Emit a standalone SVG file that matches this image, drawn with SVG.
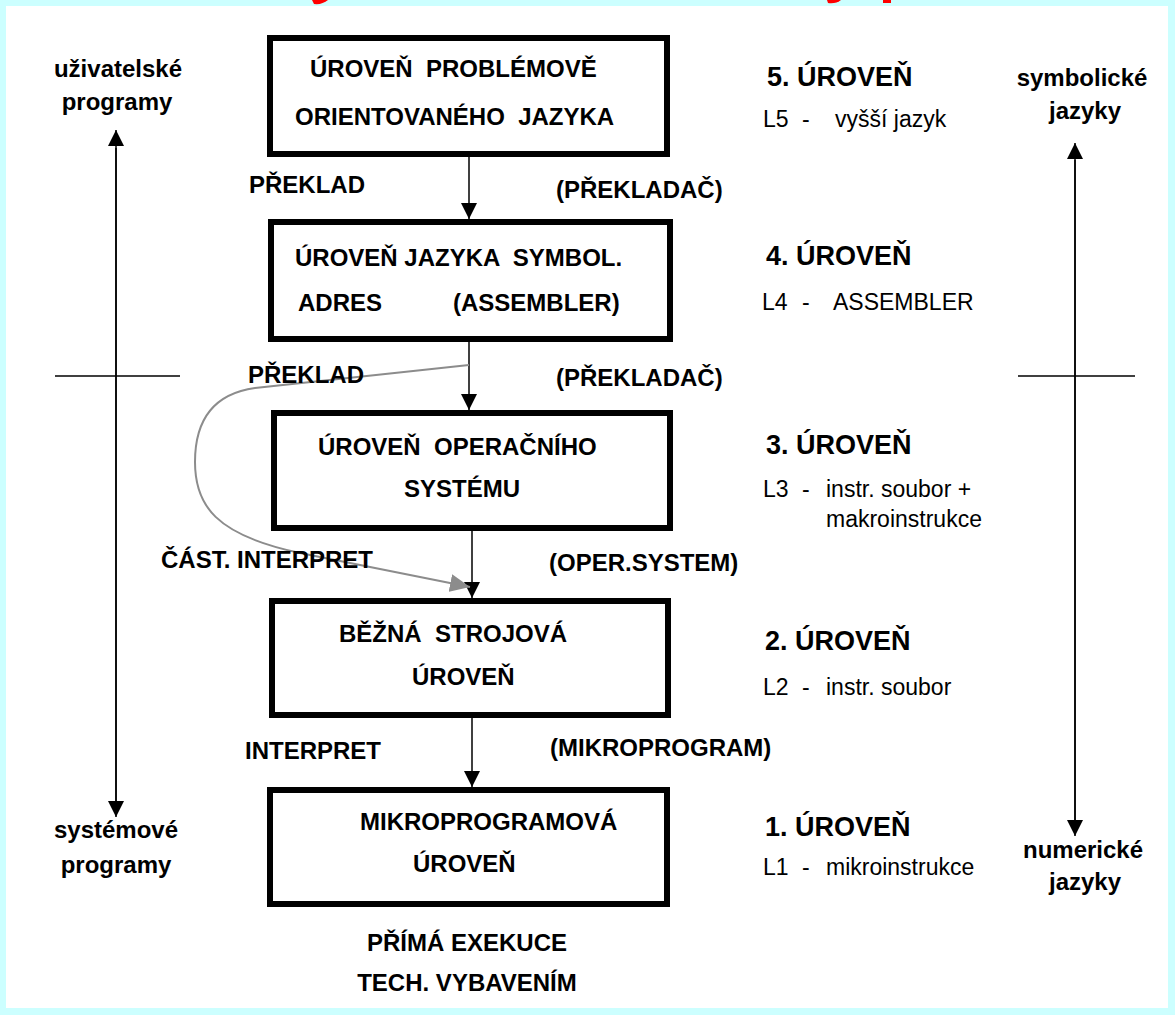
<svg xmlns="http://www.w3.org/2000/svg" width="1175" height="1015" viewBox="0 0 1175 1015">
<defs>
<style>
.box{fill:#fff;stroke:#000;stroke-width:6}
.t{font-family:"Liberation Sans",Arial,sans-serif;font-weight:bold;font-size:24px;fill:#000;white-space:pre}
.lv{font-family:"Liberation Sans",Arial,sans-serif;font-weight:bold;font-size:27px;fill:#000;white-space:pre}
.r{font-family:"Liberation Sans",Arial,sans-serif;font-size:23px;fill:#000;white-space:pre}
.c{text-anchor:middle}
.ln{stroke:#000;stroke-width:1.5;fill:none}
.gr{stroke:#8c8c8c;stroke-width:2;fill:none}
</style>
<marker id="ah" markerUnits="userSpaceOnUse" markerWidth="18" markerHeight="16" refX="16" refY="8" orient="auto">
<path d="M0,0 L16,8 L0,16 Z" fill="#000"/>
</marker>
<marker id="ahg" markerUnits="userSpaceOnUse" markerWidth="22" markerHeight="18" refX="20" refY="9" orient="auto">
<path d="M0,0 L20,9 L0,18 Z" fill="#8c8c8c"/>
</marker>
</defs>
<rect x="0" y="0" width="1175" height="1015" fill="#ccffff"/>
<rect x="6" y="6" width="1162" height="1002" fill="#fff"/>
<g id="title-remnant" fill="#ff0000">
<path d="M312,0 L328,0 Q322,5 314,4 Z"/>
<path d="M827,0 L841,0 Q836,4 828,3 Z"/>
<rect x="883" y="0" width="8" height="3"/>
</g>
<g id="connectors">
<line class="ln" x1="469" y1="157" x2="469" y2="219" marker-end="url(#ah)"/>
<line class="ln" x1="469" y1="342" x2="469" y2="410" marker-end="url(#ah)"/>
<line class="ln" x1="472" y1="531" x2="472" y2="598" marker-end="url(#ah)"/>
<line class="ln" x1="472" y1="718" x2="472" y2="787" marker-end="url(#ah)"/>
<path class="gr" d="M469,365 L255,388 C205,395 195,430 195,462 C195,505 215,535 300,553 L470,587" marker-end="url(#ahg)"/>
<line class="ln" x1="116" y1="815" x2="116" y2="130" marker-end="url(#ah)"/>
<line class="ln" x1="116" y1="148" x2="116" y2="817" marker-end="url(#ah)"/>
<line class="ln" x1="55" y1="376" x2="180" y2="376"/>
<line class="ln" x1="1075" y1="834" x2="1075" y2="143" marker-end="url(#ah)"/>
<line class="ln" x1="1075" y1="160" x2="1075" y2="836" marker-end="url(#ah)"/>
<line class="ln" x1="1018" y1="376" x2="1135" y2="376"/>
</g>
<g id="level5">
<rect class="box" x="270" y="38" width="397" height="116"/>
<text class="t" x="310" y="77">ÚROVEŇ  PROBLÉMOVĚ</text>
<text class="t" x="295" y="125">ORIENTOVANÉHO  JAZYKA</text>
</g>
<g id="level4">
<rect class="box" x="271" y="222" width="399" height="117"/>
<text class="t" x="295" y="266">ÚROVEŇ JAZYKA  SYMBOL.</text>
<text class="t" x="298" y="311">ADRES</text>
<text class="t" x="453" y="311">(ASSEMBLER)</text>
</g>
<g id="level3">
<rect class="box" x="274" y="413" width="396" height="115"/>
<text class="t" x="318" y="455">ÚROVEŇ  OPERAČNÍHO</text>
<text class="t" x="404" y="497">SYSTÉMU</text>
</g>
<g id="level2">
<rect class="box" x="272" y="601" width="396" height="114"/>
<text class="t" x="339" y="642">BĚŽNÁ  STROJOVÁ</text>
<text class="t" x="412" y="685">ÚROVEŇ</text>
</g>
<g id="level1">
<rect class="box" x="270" y="790" width="397" height="114"/>
<text class="t" x="360" y="830">MIKROPROGRAMOVÁ</text>
<text class="t" x="413" y="872">ÚROVEŇ</text>
</g>
<g id="edge-labels">
<text class="t" x="249" y="193">PŘEKLAD</text>
<text class="t" x="556" y="198">(PŘEKLADAČ)</text>
<text class="t" x="248" y="383">PŘEKLAD</text>
<text class="t" x="556" y="386">(PŘEKLADAČ)</text>
<text class="t" x="373" y="568" text-anchor="end">ČÁST. INTERPRET</text>
<text class="t" x="549" y="571">(OPER.SYSTEM)</text>
<text class="t" x="245" y="759">INTERPRET</text>
<text class="t" x="550" y="756">(MIKROPROGRAM)</text>
<text class="t c" x="467" y="951">PŘÍMÁ EXEKUCE</text>
<text class="t c" x="467" y="991">TECH. VYBAVENÍM</text>
</g>
<g id="level-descriptions">
<text class="lv" x="767" y="86">5. ÚROVEŇ</text>
<text class="r" x="763" y="127">L5</text><text class="r" x="802" y="127">-</text><text class="r" x="835" y="127">vyšší jazyk</text>
<text class="lv" x="766" y="265">4. ÚROVEŇ</text>
<text class="r" x="762" y="310">L4</text><text class="r" x="802" y="310">-</text><text class="r" x="833" y="310">ASSEMBLER</text>
<text class="lv" x="766" y="454">3. ÚROVEŇ</text>
<text class="r" x="763" y="497">L3</text><text class="r" x="802" y="497">-</text><text class="r" x="826" y="497">instr. soubor +</text>
<text class="r" x="826" y="527">makroinstrukce</text>
<text class="lv" x="765" y="650">2. ÚROVEŇ</text>
<text class="r" x="763" y="695">L2</text><text class="r" x="802" y="695">-</text><text class="r" x="826" y="695">instr. soubor</text>
<text class="lv" x="765" y="836">1. ÚROVEŇ</text>
<text class="r" x="763" y="875">L1</text><text class="r" x="802" y="875">-</text><text class="r" x="826" y="875">mikroinstrukce</text>
</g>
<g id="side-labels">
<text class="t c" x="118" y="77">uživatelské</text>
<text class="t c" x="117" y="110">programy</text>
<text class="t c" x="116" y="838">systémové</text>
<text class="t c" x="116" y="873">programy</text>
<text class="t c" x="1082" y="86">symbolické</text>
<text class="t c" x="1085" y="119">jazyky</text>
<text class="t c" x="1083" y="858">numerické</text>
<text class="t c" x="1085" y="890">jazyky</text>
</g>
</svg>
